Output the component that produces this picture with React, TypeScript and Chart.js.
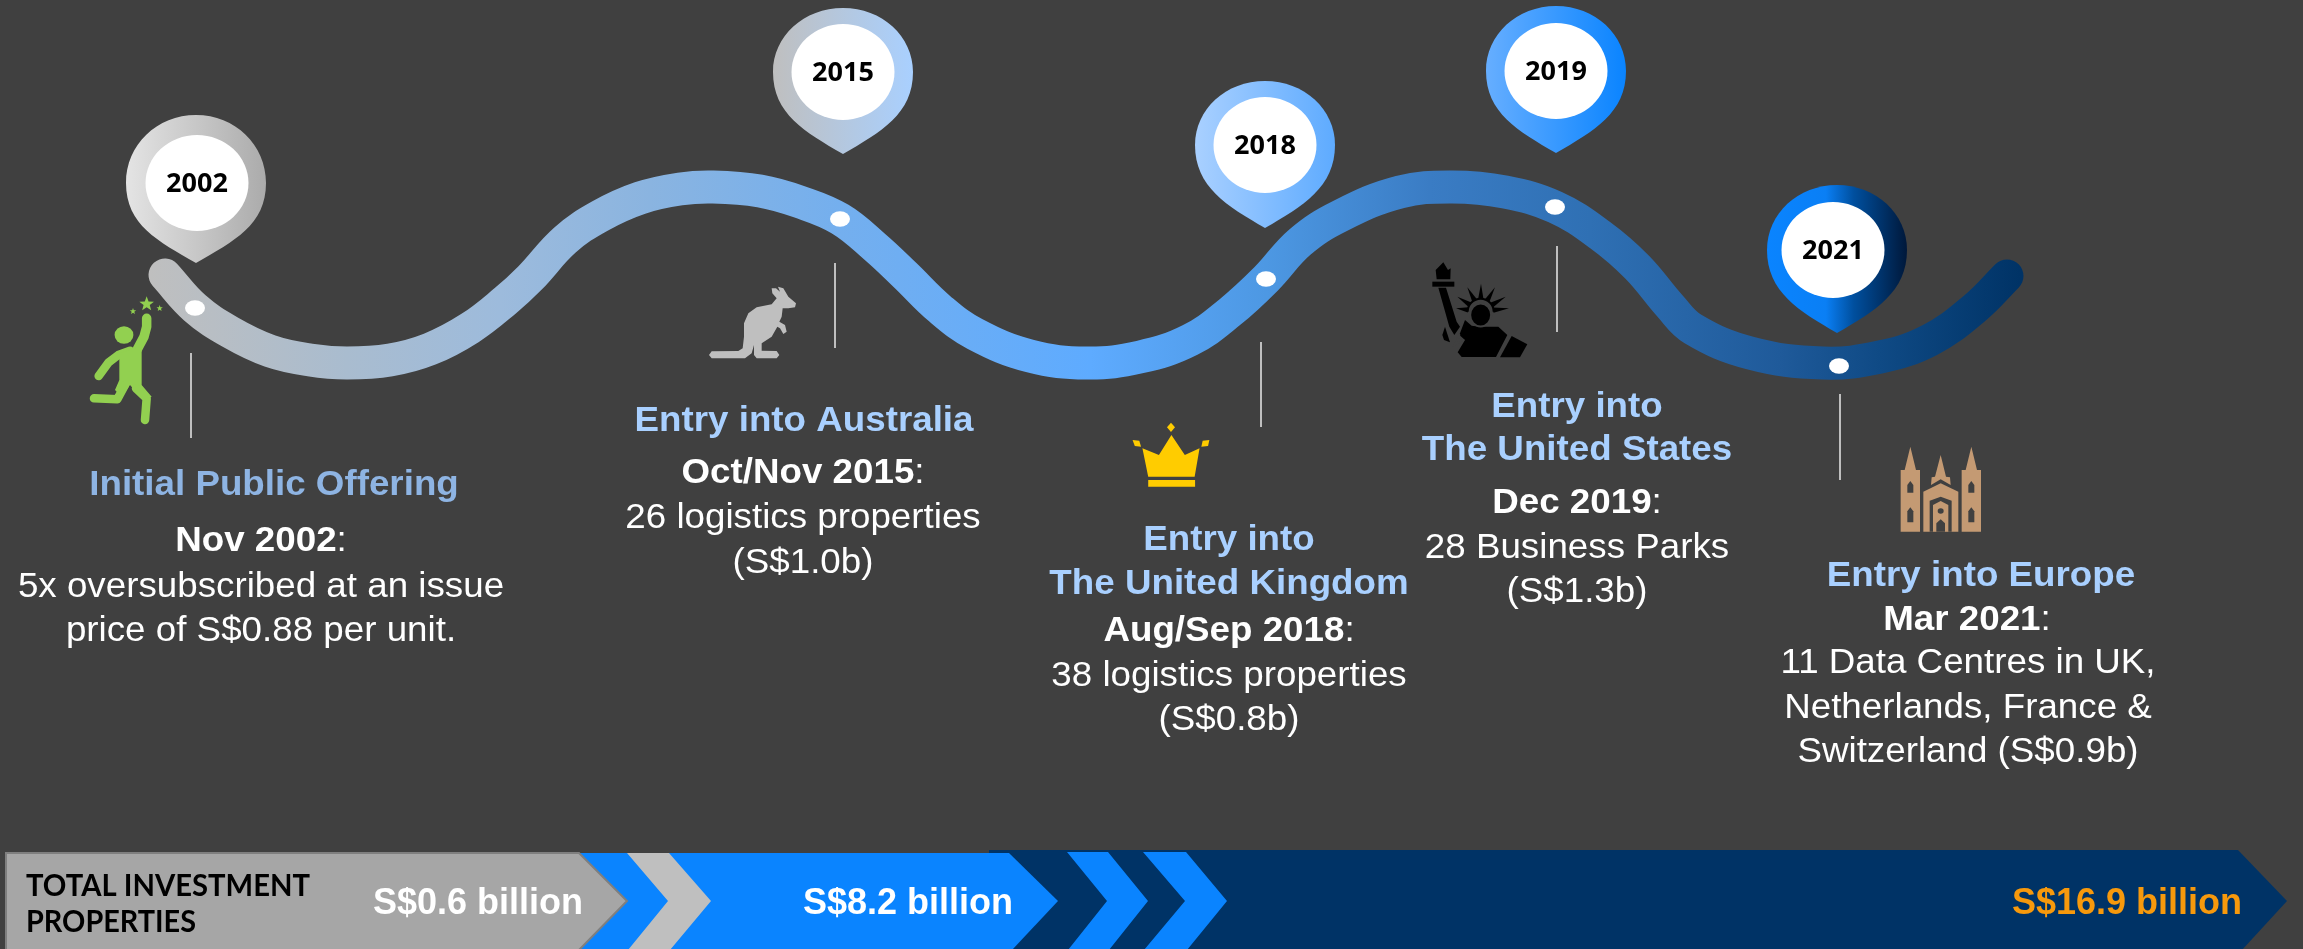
import React, { useEffect, useRef } from "react";
import { Chart, registerables } from "chart.js";

Chart.register(...registerables);

const WIDTH = 2303;
const HEIGHT = 949;

// Ribbon centre line
const ribbonX = [165, 195, 230, 270, 310, 347, 390, 430, 470, 505, 530, 565, 600, 640, 680, 713, 760, 800, 840, 875, 905, 940, 975, 1030, 1087, 1140, 1190, 1230, 1266, 1300, 1340, 1400, 1452, 1505, 1555, 1600, 1637, 1670, 1693, 1750, 1823, 1880, 1930, 1975, 2007];
const ribbonY = [275, 308, 332, 351, 360, 363, 360, 349, 328, 301, 278, 240, 216, 198, 189, 187, 191, 202, 219, 247, 275, 309, 334, 356, 363, 357, 340, 312, 279, 242, 216, 192, 187, 192, 207, 235, 267, 306, 329, 353, 363, 357, 340, 308, 276];

// Milestones
const years = ["2002", "2015", "2018", "2019", "2021"];
const pinX = [196, 843, 1265, 1556, 1837];
const faceX = [197, 843, 1265, 1556, 1833];
const pinCentreY = [183, 72, 145, 71, 250];
const pinTopY = [115, 8, 81, 6, 185];
const pinTipY = [263, 154, 228, 153, 333];
const dotX = [195, 840, 1266, 1555, 1839];
const dotY = [308, 219, 279, 207, 366];
const leaderX = [191, 835, 1261, 1557, 1840];
const leaderTop = [353, 263, 342, 246, 394];
const leaderBottom = [438, 348, 427, 332, 480];

const titleLines = [
  "Initial Public Offering",
  "Entry into Australia",
  "Entry into",
  "The United Kingdom",
  "Entry into",
  "The United States",
  "Entry into Europe",
];
const titleX = [274, 804, 1229, 1229, 1577, 1577, 1981];
const titleY = [485, 421, 540, 584, 407, 450, 576];
const titleColors = ["#8eb4e3", "#a9d0ff", "#a9d0ff", "#a9d0ff", "#a9d0ff", "#a9d0ff", "#a9d0ff"];

const dateLines = ["Nov 2002", "Oct/Nov 2015", "Aug/Sep 2018", "Dec 2019", "Mar 2021"];
const dateX = [261, 803, 1229, 1577, 1967];
const dateY = [541, 473, 631, 503, 620];

const bodyLines = [
  "5x oversubscribed at an issue",
  "price of S$0.88 per unit.",
  "26 logistics properties",
  "(S$1.0b)",
  "38 logistics properties",
  "(S$0.8b)",
  "28 Business Parks",
  "(S$1.3b)",
  "11 Data Centres in UK,",
  "Netherlands, France &",
  "Switzerland (S$0.9b)",
];
const bodyX = [261, 261, 803, 803, 1229, 1229, 1577, 1577, 1968, 1968, 1968];
const bodyY = [587, 631, 518, 563, 676, 720, 548, 592, 663, 708, 752];

// Investment bar
const barLabel = ["TOTAL INVESTMENT", "PROPERTIES"];
const totals = ["S$0.6 billion", "S$8.2 billion", "S$16.9 billion"];
const totalX = [478, 908, 2127];
const totalColors = ["#ffffff", "#ffffff", "#f7990c"];

type Ctx = CanvasRenderingContext2D;
type P = [number, number];

const BG = "#404040";
const FONT_SIZE = 35;
const STRETCH = 1.05;

function buildOverlay() {
  return {
    id: "infographic",
    beforeDraw(chart: any) {
      const c: Ctx = chart.ctx;
      c.save();
      c.fillStyle = BG;
      c.fillRect(0, 0, WIDTH, HEIGHT);
      c.restore();
    },
    beforeDatasetsDraw(chart: any) {
      const c: Ctx = chart.ctx;
      const px = (v: number) => chart.scales.x.getPixelForValue(v);
      const py = (v: number) => chart.scales.y.getPixelForValue(v);
      drawBar(c, px, py);
      c.save();
      c.strokeStyle = "#bfbfbf";
      c.lineWidth = 2;
      leaderX.forEach((x, i) => {
        c.beginPath();
        c.moveTo(px(x), py(leaderTop[i]));
        c.lineTo(px(x), py(leaderBottom[i]));
        c.stroke();
      });
      c.restore();
      drawPerson(c);
      drawKangaroo(c);
      drawCrown(c);
      drawStatue(c);
      drawCathedral(c);
      drawTexts(c, px, py);
    },
    afterDatasetsDraw(chart: any) {
      const c: Ctx = chart.ctx;
      const px = (v: number) => chart.scales.x.getPixelForValue(v);
      const py = (v: number) => chart.scales.y.getPixelForValue(v);
      const stops: [number, string][][] = [
        [[0, "#e4e4e4"], [1, "#ababab"]],
        [[0, "#bfbfbf"], [1, "#a9d0ff"]],
        [[0, "#a9d0ff"], [1, "#5eabff"]],
        [[0, "#66aeff"], [1, "#0a84ff"]],
        [[0, "#0a84ff"], [0.42, "#0a7ff5"], [0.62, "#004f9e"], [1, "#00183a"]],
      ];
      c.save();
      c.fillStyle = "#ffffff";
      dotX.forEach((x, i) => {
        c.beginPath();
        c.ellipse(px(x), py(dotY[i]), 10, 7.7, 0, 0, Math.PI * 2);
        c.fill();
      });
      years.forEach((year, i) => {
        const cx = px(pinX[i]);
        const cy = py(pinCentreY[i]);
        const top = py(pinTopY[i]);
        const tip = py(pinTipY[i]);
        const rx = 70;
        const g = c.createLinearGradient(cx - rx, 0, cx + rx, 0);
        stops[i].forEach(([o, col]) => g.addColorStop(o, col));
        c.fillStyle = g;
        c.beginPath();
        c.moveTo(cx, tip);
        c.bezierCurveTo(cx - 38, tip - 22, cx - rx, cy + 42, cx - rx, cy);
        c.bezierCurveTo(cx - rx, cy - (cy - top) * 0.56, cx - 39, top, cx, top);
        c.bezierCurveTo(cx + 39, top, cx + rx, cy - (cy - top) * 0.56, cx + rx, cy);
        c.bezierCurveTo(cx + rx, cy + 42, cx + 38, tip - 22, cx, tip);
        c.closePath();
        c.fill();
        const fx = px(faceX[i]);
        c.fillStyle = "#ffffff";
        c.beginPath();
        c.ellipse(fx, cy, 51.5, 48, 0, 0, Math.PI * 2);
        c.fill();
        c.fillStyle = "#000000";
        c.font = 'bold 27px "Open Sans"';
        c.textAlign = "center";
        c.textBaseline = "middle";
        c.fillText(year, fx, cy + 1);
      });
      c.restore();
    },
  };
}

function drawBar(c: Ctx, px: (v: number) => number, py: (v: number) => number) {
  const poly = (pts: P[], fill: any, stroke?: string) => {
    c.beginPath();
    pts.forEach(([x, y], i) => (i ? c.lineTo(px(x), py(y)) : c.moveTo(px(x), py(y))));
    c.closePath();
    c.fillStyle = fill;
    c.fill();
    if (stroke) {
      c.strokeStyle = stroke;
      c.lineWidth = 2;
      c.stroke();
    }
  };
  const T = 853;
  const M = 901;
  const B = 950;
  c.save();
  poly([[989, 850], [2238, 850], [2287, M], [2242, B], [989, B]], "#003366");
  poly([[579, T], [1009, T], [1058, M], [1012, B], [579, B]], "#0a84ff");
  poly([[1067, T - 1], [1108, T - 1], [1148, M], [1109, B], [1068, B], [1107, M]], "#0a84ff");
  poly([[1143, T - 1], [1186, T - 1], [1227, M], [1187, B], [1144, B], [1185, M]], "#0a84ff");
  poly([[627, T], [669, T], [711, M], [670, B], [628, B], [668, M]], "#bfbfbf");
  poly([[6, T], [579, T], [627, M], [579, B], [6, B]], "#a6a6a6", "#7f7f7f");
  c.restore();
}

function wideText(c: Ctx, t: string, x: number, y: number) {
  c.save();
  c.translate(x, y);
  c.scale(STRETCH, 1);
  c.fillText(t, 0, 0);
  c.restore();
}

function drawTexts(c: Ctx, px: (v: number) => number, py: (v: number) => number) {
  const bold = `bold ${FONT_SIZE}px "Liberation Sans"`;
  const regular = `${FONT_SIZE}px "Liberation Sans"`;
  c.save();
  c.textBaseline = "middle";
  c.textAlign = "center";
  c.font = bold;
  titleLines.forEach((t, i) => {
    c.fillStyle = titleColors[i];
    wideText(c, t, px(titleX[i]), py(titleY[i]));
  });
  c.fillStyle = "#ffffff";
  dateLines.forEach((t, i) => {
    c.font = bold;
    const w = c.measureText(t).width * STRETCH;
    c.font = regular;
    const w2 = c.measureText(":").width * STRETCH;
    const left = px(dateX[i]) - (w + w2) / 2;
    c.textAlign = "left";
    c.font = bold;
    wideText(c, t, left, py(dateY[i]));
    c.font = regular;
    wideText(c, ":", left + w, py(dateY[i]));
    c.textAlign = "center";
  });
  c.font = regular;
  c.fillStyle = "#ffffff";
  bodyLines.forEach((t, i) => wideText(c, t, px(bodyX[i]), py(bodyY[i])));
  c.font = 'bold 36px "Liberation Sans"';
  totals.forEach((t, i) => {
    c.fillStyle = totalColors[i];
    c.fillText(t, px(totalX[i]), py(904));
  });
  c.textAlign = "left";
  c.fillStyle = "#000000";
  c.font = 'bold 30px "Lato"';
  c.fillText(barLabel[0], px(26), py(886), 284);
  c.fillText(barLabel[1], px(26), py(922), 170);
  c.restore();
}

function fillPts(c: Ctx, pts: P[], map: (p: P) => P) {
  c.beginPath();
  pts.forEach((p, i) => {
    const [x, y] = map(p);
    if (i) c.lineTo(x, y);
    else c.moveTo(x, y);
  });
  c.closePath();
  c.fill();
}

function strokePts(c: Ctx, pts: P[], map: (p: P) => P) {
  c.beginPath();
  pts.forEach((p, i) => {
    const [x, y] = map(p);
    if (i) c.lineTo(x, y);
    else c.moveTo(x, y);
  });
  c.stroke();
}

function star(c: Ctx, x: number, y: number, r: number) {
  c.beginPath();
  for (let i = 0; i < 10; i++) {
    const a = -Math.PI / 2 + (i * Math.PI) / 5;
    const q = i % 2 ? r * 0.42 : r;
    const sx = x + Math.cos(a) * q;
    const sy = y + Math.sin(a) * q;
    if (i) c.lineTo(sx, sy);
    else c.moveTo(sx, sy);
  }
  c.closePath();
  c.fill();
}

function drawPerson(c: Ctx) {
  const m = ([x, y]: P): P => [80 + x / 3, 290 + y / 3];
  const col = "#92d050";
  c.save();
  c.fillStyle = col;
  c.strokeStyle = col;
  c.lineCap = "round";
  c.lineJoin = "round";
  const [hx, hy] = m([132, 135]);
  c.beginPath();
  c.ellipse(hx, hy, 9.4, 8.7, 0, 0, Math.PI * 2);
  c.fill();
  const stars: [number, number, number][] = [[200, 42, 23], [159, 64, 10], [239, 55, 10]];
  stars.forEach(([x, y, r]) => {
    const [sx, sy] = m([x, y]);
    star(c, sx, sy, r / 3);
  });
  c.lineWidth = 9.5;
  strokePts(c, [[200, 85], [200, 110], [192, 140], [172, 178]], m);
  c.lineWidth = 8.5;
  strokePts(c, [[150, 182], [115, 195], [85, 218], [56, 258]], m);
  fillPts(c, [[118, 190], [185, 168], [185, 285], [215, 320], [190, 330], [150, 285], [125, 320], [105, 300], [118, 270]], m);
  strokePts(c, [[135, 285], [112, 328], [42, 325]], m);
  strokePts(c, [[168, 295], [200, 325], [195, 390]], m);
  c.restore();
}

function drawKangaroo(c: Ctx) {
  const pts: P[] = [
    [207, 585], [215, 574], [295, 573], [308, 565], [312, 530], [312, 490], [325, 460], [350, 442], [395, 433], [410, 415],
    [397, 400], [395, 385], [408, 385], [420, 395], [414, 380], [430, 385], [445, 410], [468, 430], [465, 442], [445, 445],
    [428, 445], [425, 470], [418, 485], [435, 495], [440, 515], [430, 522], [420, 505], [412, 500], [395, 530], [365, 550],
    [365, 572], [410, 573], [418, 585], [410, 595], [350, 595], [342, 585], [342, 555], [335, 580], [315, 595], [215, 595],
  ];
  c.save();
  c.fillStyle = "#bfbfbf";
  fillPts(c, pts, ([x, y]) => [640 + x / 3, 160 + y / 3]);
  c.restore();
}

function drawCrown(c: Ctx) {
  const m = ([x, y]: P): P => [600 + x / 2.24, y / 3];
  c.save();
  c.fillStyle = "#ffcc00";
  fillPts(c, [[1228, 1430], [1215, 1345], [1252, 1365], [1280, 1305], [1310, 1365], [1343, 1345], [1332, 1430]], m);
  fillPts(c, [[1228, 1440], [1333, 1440], [1333, 1460], [1228, 1460]], m);
  fillPts(c, [[1279, 1268], [1288, 1282], [1279, 1296], [1270, 1282]], m);
  fillPts(c, [[1193, 1320], [1208, 1322], [1212, 1340], [1198, 1338]], m);
  fillPts(c, [[1365, 1320], [1350, 1322], [1347, 1340], [1362, 1338]], m);
  c.restore();
}

function drawStatue(c: Ctx) {
  const m = ([x, y]: P): P => [1420 + x / 3, 255 + y / 3];
  c.save();
  c.fillStyle = "#000000";
  fillPts(c, [[70, 22], [84, 45], [92, 40], [91, 73], [50, 73], [47, 45]], m);
  fillPts(c, [[37, 80], [103, 80], [103, 95], [37, 95]], m);
  fillPts(c, [[55, 98], [78, 98], [110, 200], [120, 215], [103, 240], [88, 215]], m);
  fillPts(c, [[75, 215], [90, 262], [72, 255], [67, 240]], m);
  fillPts(c, [[135, 195], [155, 212], [180, 215], [235, 215], [262, 240], [228, 306], [125, 306], [113, 292], [135, 255], [118, 240]], m);
  fillPts(c, [[275, 243], [322, 268], [300, 307], [240, 307]], m);
  const ends: P[] = [[112, 125], [142, 97], [183, 86], [225, 97], [257, 125], [267, 160], [108, 160]];
  const hc: P = [182, 170];
  ends.forEach(([ex, ey]) => {
    const dx = ex - hc[0];
    const dy = ey - hc[1];
    const l = Math.hypot(dx, dy);
    const bx = hc[0] + (dx / l) * 38;
    const by = hc[1] + (dy / l) * 38;
    const nx = (-dy / l) * 8;
    const ny = (dx / l) * 8;
    fillPts(c, [[ex, ey], [bx + nx, by + ny], [bx - nx, by - ny]], m);
  });
  const [cx, cy] = m(hc);
  c.strokeStyle = "#000000";
  c.lineWidth = 2;
  c.beginPath();
  c.ellipse(cx, cy, 13, 13, 0, Math.PI, Math.PI * 2);
  c.stroke();
  const [hx, hy] = m([182, 180]);
  c.strokeStyle = BG;
  c.lineWidth = 2;
  c.beginPath();
  c.ellipse(hx, hy, 10.5, 11.5, 0, 0, Math.PI * 2);
  c.fill();
  c.stroke();
  c.lineCap = "round";
  strokePts(c, [[118, 240], [105, 268], [130, 255]], m);
  c.restore();
}

function drawCathedral(c: Ctx) {
  const m = ([x, y]: P): P => [1800 + x / 3, 420 + y / 3];
  c.save();
  c.fillStyle = "#c49a73";
  const tower = (l: number, r: number) => {
    const mid = (l + r) / 2;
    fillPts(c, [[l, 335], [l, 150], [l + 12, 150], [mid, 80], [r - 12, 150], [r, 150], [r, 335]], m);
  };
  tower(302, 360);
  tower(485, 543);
  fillPts(c, [[370, 335], [370, 215], [422, 190], [475, 215], [475, 335]], m);
  fillPts(c, [[393, 195], [395, 172], [405, 170], [422, 105], [438, 170], [450, 172], [452, 195], [422, 178]], m);
  c.fillStyle = BG;
  const arch = (x: number, t: number, b: number, w: number) =>
    fillPts(c, [[x - w, b], [x - w, t + 12], [x, t], [x + w, t + 12], [x + w, b]], m);
  arch(331, 183, 218, 9);
  arch(331, 262, 307, 9);
  arch(514, 183, 218, 9);
  arch(514, 262, 307, 9);
  arch(422, 230, 335, 33);
  c.fillStyle = "#c49a73";
  arch(422, 243, 335, 23);
  c.fillStyle = BG;
  arch(422, 298, 335, 13);
  const [ex, ey] = m([422, 273]);
  c.beginPath();
  c.ellipse(ex, ey, 3, 2.7, 0, 0, Math.PI * 2);
  c.fill();
  c.restore();
}

export default function App() {
  const ref = useRef<HTMLCanvasElement | null>(null);
  useEffect(() => {
    const canvas = ref.current;
    if (!canvas) return;
    document.body.style.margin = "0";
    const ctx = canvas.getContext("2d") as CanvasRenderingContext2D;
    const grad = ctx.createLinearGradient(150, 0, 2020, 0);
    const stopsAt: [number, string][] = [
      [150, "#bfbfbf"], [347, "#a9bccf"], [500, "#9dbbdc"], [650, "#8ab4e0"], [840, "#74afee"], [1090, "#5eabff"],
      [1266, "#4d98e3"], [1430, "#3a7cc4"], [1590, "#2f70b4"], [1780, "#1f5a9a"], [1880, "#0f4a85"], [2020, "#003366"],
    ];
    stopsAt.forEach(([x, col]) => grad.addColorStop((x - 150) / 1870, col));
    const chart = new Chart(canvas, {
      type: "line",
      data: {
        datasets: [
          {
            label: "Timeline",
            data: ribbonX.map((x, i) => ({ x, y: ribbonY[i] })),
            borderColor: grad,
            borderWidth: 33,
            borderCapStyle: "round",
            borderJoinStyle: "round",
            tension: 0.4,
            pointRadius: 0,
            fill: false,
          },
        ],
      },
      options: {
        animation: false,
        responsive: false,
        events: [],
        layout: { padding: 0 },
        scales: {
          x: { type: "linear", min: 0, max: WIDTH, display: false },
          y: { type: "linear", min: 0, max: HEIGHT, reverse: true, display: false },
        },
        plugins: { legend: { display: false }, tooltip: { enabled: false }, title: { display: false } },
      },
      plugins: [buildOverlay()],
    } as any);
    return () => chart.destroy();
  }, []);
  return (
    <canvas
      ref={ref}
      width={WIDTH}
      height={HEIGHT}
      style={{ position: "fixed", left: 0, top: 0, width: WIDTH, height: HEIGHT, display: "block" }}
    />
  );
}
